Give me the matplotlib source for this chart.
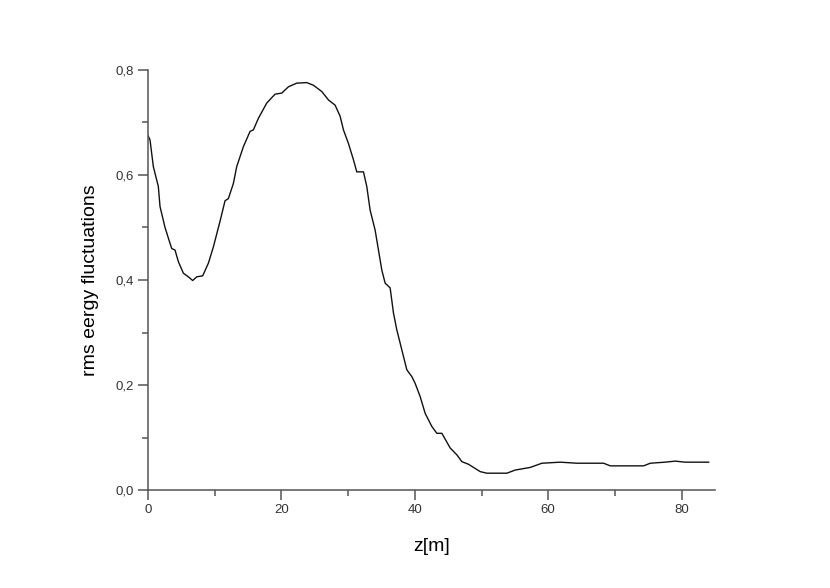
import matplotlib
matplotlib.use("Agg")
import matplotlib.pyplot as plt
from matplotlib.ticker import MultipleLocator, FuncFormatter

z = [0.0, 0.3, 0.8, 1.55, 1.8, 2.55, 3.55, 4.05, 4.55, 5.3, 6.05, 6.7, 7.3, 8.2,
     9.05, 9.8, 10.8, 11.55, 12.05, 12.8, 13.3, 14.3, 15.3, 15.8, 16.55, 17.8,
     19.05, 20.05, 21.05, 22.3, 23.8, 24.8, 26.05, 27.05, 28.05, 28.8, 29.3,
     30.05, 30.8, 31.3, 32.3, 32.8, 33.3, 34.05, 34.55, 35.05, 35.55, 36.3,
     36.8, 37.3, 38.05, 38.8, 39.55, 40.05, 40.8, 41.55, 42.55, 43.3, 44.05,
     45.3, 46.3, 47.05, 48.05, 49.8, 50.8, 53.8, 55.05, 57.3, 59.05, 61.8,
     64.3, 68.3, 69.3, 74.3, 75.3, 77.5, 79.05, 80.55, 84.05]
rms = [0.675, 0.667, 0.616, 0.578, 0.54, 0.50, 0.46, 0.457, 0.435, 0.413, 0.406,
       0.399, 0.406, 0.408, 0.432, 0.463, 0.512, 0.551, 0.555, 0.584, 0.616,
       0.654, 0.683, 0.686, 0.708, 0.737, 0.754, 0.756, 0.768, 0.775, 0.776,
       0.771, 0.759, 0.743, 0.733, 0.712, 0.686, 0.660, 0.629, 0.606, 0.606,
       0.578, 0.533, 0.495, 0.457, 0.419, 0.394, 0.385, 0.337, 0.305, 0.267,
       0.229, 0.216, 0.203, 0.178, 0.146, 0.121, 0.108, 0.108, 0.080, 0.067,
       0.054, 0.049, 0.035, 0.032, 0.032, 0.038, 0.043, 0.051, 0.053, 0.051,
       0.051, 0.046, 0.046, 0.051, 0.053, 0.055, 0.053, 0.053]

x_ticks = [0, 20, 40, 60, 80]
y_ticks = [0.0, 0.2, 0.4, 0.6, 0.8]

plt.rcParams['font.family'] = ['Liberation Sans', 'DejaVu Sans']

fig = plt.figure(figsize=(8.3, 5.88), dpi=100)
ax = fig.add_axes([148/830, 98/588, (715-148)/830, (490-70)/588])

ax.plot(z, rms, color='#111111', linewidth=1.0)

ax.set_xlim(0, 85)
ax.set_ylim(0, 0.8)
ax.set_xticks(x_ticks)
ax.set_yticks(y_ticks)
ax.xaxis.set_minor_locator(MultipleLocator(10))
ax.yaxis.set_minor_locator(MultipleLocator(0.1))
ax.yaxis.set_major_formatter(FuncFormatter(lambda v, p: f"{v:.1f}".replace('.', ',')))

spine_col = '#555555'
for s in ['top', 'right']:
    ax.spines[s].set_visible(False)
for s in ['left', 'bottom']:
    ax.spines[s].set_color(spine_col)
    ax.spines[s].set_linewidth(1.1)

ax.tick_params(which='major', direction='out', length=7, width=1.1, color=spine_col,
               labelsize=9.5, pad=3, labelcolor='#333333')
ax.tick_params(which='minor', direction='out', length=4, width=1.1, color=spine_col)

ax.set_xlabel('z[m]', fontsize=14, labelpad=16)
ax.set_ylabel('rms eergy fluctuations', fontsize=14, labelpad=12)

fig.savefig('out.png', dpi=100)
